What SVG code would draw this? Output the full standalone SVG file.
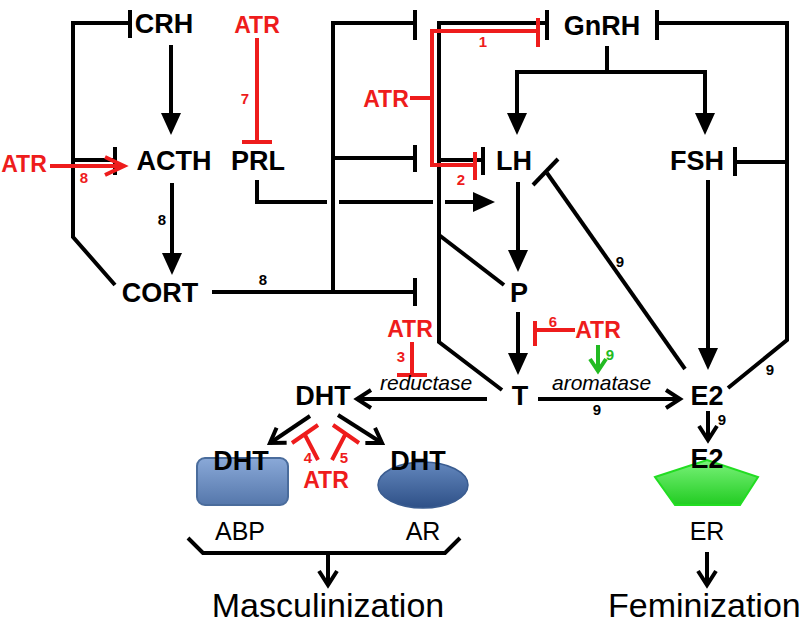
<svg xmlns="http://www.w3.org/2000/svg" width="800" height="630" viewBox="0 0 800 630">
<defs>
<style>
.n{font-family:"Liberation Sans",Arial,sans-serif;font-weight:bold;font-size:27px;text-anchor:middle;fill:#000}
.a{font-family:"Liberation Sans",Arial,sans-serif;font-weight:bold;font-size:23px;text-anchor:middle;fill:#ee1c1c}
.num{font-family:"Liberation Sans",Arial,sans-serif;font-weight:bold;font-size:15px;text-anchor:middle}
.it{font-family:"Liberation Sans",Arial,sans-serif;font-style:italic;font-size:21px;fill:#000}
.lab{font-family:"Liberation Sans",Arial,sans-serif;font-size:25px;text-anchor:middle;fill:#000}
.big{font-family:"Liberation Sans",Arial,sans-serif;font-size:34px;fill:#000}
.k{stroke:#000;stroke-width:4;fill:none}
.r{stroke:#ee1c1c;stroke-width:4;fill:none}
.g{stroke:#22bb22;stroke-width:4;fill:none}
.tri{marker-end:url(#tri)}
.ch{marker-end:url(#chev)}
</style>
<marker id="tri" markerUnits="userSpaceOnUse" markerWidth="22" markerHeight="20" refX="12" refY="10" orient="auto" overflow="visible">
<path d="M0,0 L22,10 L0,20 Z" fill="#000"/>
</marker>
<marker id="chev" markerUnits="userSpaceOnUse" markerWidth="18" markerHeight="20" refX="15" refY="10" orient="auto" overflow="visible">
<path d="M1,1 L15,10 L1,19" fill="none" stroke="#000" stroke-width="4"/>
</marker>
<marker id="chevR" markerUnits="userSpaceOnUse" markerWidth="22" markerHeight="20" refX="20" refY="9" orient="auto" overflow="visible">
<path d="M1,0 L20,9 L1,18" fill="none" stroke="#ee1c1c" stroke-width="4"/>
</marker>
<marker id="chevG" markerUnits="userSpaceOnUse" markerWidth="16" markerHeight="18" refX="13" refY="8" orient="auto" overflow="visible">
<path d="M1,0 L13,8 L1,16" fill="none" stroke="#22bb22" stroke-width="4"/>
</marker>
<linearGradient id="gABP" x1="0" y1="0" x2="0" y2="1">
<stop offset="0" stop-color="#8aa9d8"/>
<stop offset="1" stop-color="#5577ab"/>
</linearGradient>
<linearGradient id="gAR" x1="0" y1="0" x2="0" y2="1">
<stop offset="0" stop-color="#6387bd"/>
<stop offset="1" stop-color="#2e5087"/>
</linearGradient>
<linearGradient id="gER" x1="0" y1="0" x2="0" y2="1">
<stop offset="0" stop-color="#7af27a"/>
<stop offset="1" stop-color="#22cc22"/>
</linearGradient>
</defs>
<rect width="800" height="630" fill="#fff"/>

<g id="connectors">
<!-- CRH feedback loop -->
<path class="k" d="M130,23 H73 V237 L115,285"/>
<line class="k" x1="130" y1="10" x2="130" y2="38"/>
<path class="k" d="M73,160 H115"/>
<line class="k" x1="115" y1="147" x2="115" y2="175"/>
<path class="k tri" d="M171,45 V125"/>
<path class="k tri" d="M172,183 V265"/>
<!-- CORT feedback -->
<path class="k" d="M212,292 H415"/>
<line class="k" x1="415" y1="278" x2="415" y2="306"/>
<path class="k" d="M333,292 V23 H415"/>
<line class="k" x1="415" y1="10" x2="415" y2="40"/>
<path class="k" d="M333,158 H415"/>
<line class="k" x1="415" y1="145" x2="415" y2="172"/>
<!-- P/T feedback -->
<path class="k" d="M547,23 H439 V342 L502,390"/>
<line class="k" x1="547" y1="10" x2="547" y2="40"/>
<path class="k" d="M439,235 L504,285"/>
<path class="k" d="M439,160 H483"/>
<line class="k" x1="483" y1="147" x2="483" y2="175"/>
<!-- PRL to LH -->
<path class="k tri" d="M257,180 V202 H327 M339,202 H433 M445,202 H485"/>
<!-- GnRH -->
<path class="k" d="M607,46 V72 M515,72 H707"/>
<path class="k tri" d="M517,72 V125"/>
<path class="k tri" d="M705,72 V125"/>
<path class="k" d="M657,23 H787 V340 L728,388"/>
<line class="k" x1="657" y1="10" x2="657" y2="40"/>
<path class="k" d="M735,162 H787"/>
<line class="k" x1="735" y1="147" x2="735" y2="176"/>
<!-- LH, FSH -->
<path class="k tri" d="M518,182 V262"/>
<path class="k tri" d="M518,312 V365"/>
<path class="k tri" d="M708,180 V360"/>
<path class="k" d="M685,369 L547,173"/>
<line class="k" x1="533" y1="185" x2="558" y2="159"/>
<!-- T conversions -->
<path class="k ch" d="M538,399 H680"/>
<path class="k ch" d="M487,399 H357"/>
<path class="k ch" d="M310,416 L270,443"/>
<path class="k ch" d="M338,415 L382,443"/>
<path class="k ch" d="M708,411 V440"/>
<path class="k" d="M188,538 L203,553 H445 L460,538"/>
<path class="k ch" d="M328,553 V585"/>
<path class="k ch" d="M707,552 V585"/>
<!-- red ATR effects -->
<path class="r" d="M50,166 H124" marker-end="url(#chevR)"/>
<path class="r" d="M257,38 V142 M242,142 H272"/>
<path class="r" d="M410,98 H432 M538,31 H432 V165 H475"/>
<line class="r" x1="538" y1="18" x2="538" y2="47"/>
<line class="r" x1="475" y1="152" x2="475" y2="180"/>
<path class="r" d="M412,342 V375 M397,375 H427"/>
<path class="r" d="M575,330 H535 M535,321 V346"/>
<path class="r" d="M318,460 L305,435 M292,443 L318,425"/>
<path class="r" d="M332,460 L345,435 M333,425 L359,443"/>
<path class="g" d="M598,345 V371" marker-end="url(#chevG)"/>
</g>

<g id="CRH"><text class="n" x="164" y="33">CRH</text></g>
<g id="ACTH"><text class="n" x="174" y="170">ACTH</text></g>
<g id="PRL"><text class="n" x="258" y="170">PRL</text></g>
<g id="CORT"><text class="n" x="160" y="302">CORT</text></g>
<g id="GnRH"><text class="n" x="602" y="35">GnRH</text></g>
<g id="LH"><text class="n" x="514" y="170">LH</text></g>
<g id="FSH"><text class="n" x="697" y="170">FSH</text></g>
<g id="P"><text class="n" x="519" y="302">P</text></g>
<g id="T"><text class="n" x="520" y="405">T</text></g>
<g id="E2"><text class="n" x="707" y="405">E2</text></g>
<g id="DHT"><text class="n" x="323" y="405">DHT</text></g>
<g id="ABP">
<rect x="197" y="458" width="91" height="47" rx="8" fill="url(#gABP)" stroke="#4a6c9c" stroke-width="2"/>
<text class="n" x="241" y="470">DHT</text>
<text class="lab" x="240" y="540">ABP</text>
</g>
<g id="AR">
<ellipse cx="423" cy="485" rx="45" ry="23" fill="url(#gAR)" stroke="#3a5c90" stroke-width="1.5"/>
<text class="n" x="418" y="470">DHT</text>
<text class="lab" x="423" y="540">AR</text>
</g>
<g id="ER">
<polygon points="655,477 707,460 758,477 740,505 675,505" fill="url(#gER)" stroke="#22dd22" stroke-width="2"/>
<text class="n" x="707" y="468">E2</text>
<text class="lab" x="707" y="540">ER</text>
</g>
<g id="Masculinization"><text class="big" x="328" y="617" text-anchor="middle">Masculinization</text></g>
<g id="Feminization"><text class="big" x="608" y="617">Feminization</text></g>

<g id="ATR-labels">
<text class="a" x="24" y="172">ATR</text>
<text class="a" x="257" y="33">ATR</text>
<text class="a" x="386" y="107">ATR</text>
<text class="a" x="410" y="337">ATR</text>
<text class="a" x="598" y="338">ATR</text>
<text class="a" x="326" y="488">ATR</text>
</g>
<g id="numbers">
<text class="num" x="245" y="104" fill="#ee1c1c">7</text>
<text class="num" x="84" y="183" fill="#ee1c1c">8</text>
<text class="num" x="162" y="225">8</text>
<text class="num" x="263" y="285">8</text>
<text class="num" x="483" y="47" fill="#ee1c1c">1</text>
<text class="num" x="461" y="185" fill="#ee1c1c">2</text>
<text class="num" x="401" y="362" fill="#ee1c1c">3</text>
<text class="num" x="553" y="327" fill="#ee1c1c">6</text>
<text class="num" x="610" y="360" fill="#22bb22">9</text>
<text class="num" x="620" y="267">9</text>
<text class="num" x="770" y="375">9</text>
<text class="num" x="597" y="415">9</text>
<text class="num" x="722" y="425">9</text>
<text class="num" x="308" y="463" fill="#ee1c1c">4</text>
<text class="num" x="344" y="463" fill="#ee1c1c">5</text>
</g>
<g id="enzymes">
<text class="it" x="380" y="390">reductase</text>
<text class="it" x="552" y="390">aromatase</text>
</g>
</svg>
